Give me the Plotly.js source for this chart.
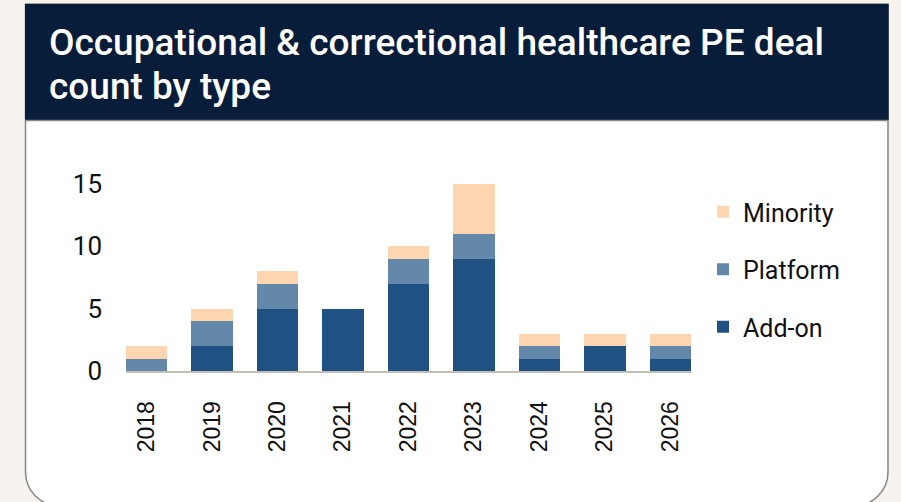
<!DOCTYPE html>
<html>
<head>
<meta charset="utf-8">
<script src="https://cdn.plot.ly/plotly-3.0.1.min.js"></script>
<style>
html,body{margin:0;padding:0;background:#f6f3ee;}
#chart{width:901px;height:502px;}
</style>
</head>
<body>
<div id="chart"></div>
<script>
// ---- Data ----
const years = ["2018","2019","2020","2021","2022","2023","2024","2025","2026"];
const addOn    = [0, 2, 5, 5, 7, 9, 1, 2, 1];
const platform = [1, 2, 2, 0, 2, 2, 1, 0, 1];
const minority = [1, 1, 1, 0, 1, 4, 1, 1, 1];
const seriesNames = ["Add-on", "Platform", "Minority"];
const titleLines = ["Occupational & correctional healthcare PE deal", "count by type"];
const yTicks = [0, 5, 10, 15];

// ---- Layout geometry (pixels) ----
const W = 901, H = 502;
const M = {l: 126, r: 210, t: 159, b: 131};
const PW = W - M.l - M.r, PH = H - M.t - M.b;
const px = x => (x - M.l) / PW;
const py = y => (H - M.b - y) / PH;

const colors = {add: "#1f5182", plat: "#6388aa", min: "#fdd6b1"};
const xIdx = years.map((_, i) => i);

const traces = [
  {type: "bar", name: seriesNames[0], x: xIdx, y: addOn, marker: {color: colors.add}, legendgroup: "a", legendrank: 3},
  {type: "bar", name: seriesNames[1], x: xIdx, y: platform, marker: {color: colors.plat}, legendgroup: "b", legendrank: 2},
  {type: "bar", name: seriesNames[2], x: xIdx, y: minority, marker: {color: colors.min}, legendgroup: "c", legendrank: 1}
];

// card path with rounded bottom corners
const L = 25.5, R = 888, T = 4, B = 506, r = 34, k = 0.5523 * r;
const P = (x, y) => px(x).toFixed(5) + "," + py(y).toFixed(5);
const cardPath = "M" + P(L, T) + " L" + P(L, B - r) +
  " C" + P(L, B - r + k) + " " + P(L + r - k, B) + " " + P(L + r, B) +
  " L" + P(R - r, B) +
  " C" + P(R - r + k, B) + " " + P(R, B - r + k) + " " + P(R, B - r) +
  " L" + P(R, T) + " Z";

const shapes = [
  {type: "path", xref: "paper", yref: "paper", path: cardPath, fillcolor: "#ffffff",
   line: {color: "#8a8782", width: 1.5}, layer: "below"},
  {type: "rect", xref: "paper", yref: "paper", x0: px(25), x1: px(888.7), y0: py(4), y1: py(120),
   fillcolor: "#081d3a", line: {width: 0}, layer: "below"},
  {type: "line", xref: "paper", yref: "paper", x0: px(25), x1: px(888.7), y0: py(120.5), y1: py(120.5),
   line: {color: "#8a8782", width: 1.5}, layer: "below"}
];

const titleFont = {family: "Roboto", size: 37, color: "#ffffff", weight: 500};
const annotations = [
  {xref: "paper", yref: "paper", x: px(47), y: py(43), xanchor: "left", yanchor: "middle",
   text: titleLines[0], showarrow: false, font: titleFont},
  {xref: "paper", yref: "paper", x: px(47), y: py(86), xanchor: "left", yanchor: "middle",
   text: titleLines[1], showarrow: false, font: titleFont}
];

const layout = {
  width: W, height: H,
  margin: M,
  paper_bgcolor: "#f6f3ee",
  plot_bgcolor: "rgba(0,0,0,0)",
  barmode: "stack",
  bargap: 0.37,
  showlegend: true,
  legend: {x: px(703), xanchor: "left", y: py(189), yanchor: "top",
           traceorder: "grouped", tracegroupgap: 22,
           font: {family: "Roboto", size: 25, color: "#111111"},
           bgcolor: "rgba(0,0,0,0)"},
  xaxis: {range: [-0.315, 8.315], tickmode: "array", tickvals: xIdx, ticktext: years,
          tickangle: -90, showline: true, linecolor: "#c2beb6", linewidth: 2,
          showgrid: false, zeroline: false, ticks: "", ticklabelstandoff: 19,
          tickfont: {family: "Liberation Sans, Arial", size: 23, color: "#111111"}, fixedrange: true},
  yaxis: {range: [0, 17], tickmode: "array", tickvals: yTicks, ticktext: yTicks.map(String),
          showgrid: false, zeroline: false, showline: false, ticks: "", ticklabelstandoff: 23,
          tickfont: {family: "Roboto", size: 26, color: "#111111"}, fixedrange: true},
  shapes: shapes,
  annotations: annotations
};

Plotly.newPlot("chart", traces, layout, {staticPlot: true, displayModeBar: false});
</script>
</body>
</html>
